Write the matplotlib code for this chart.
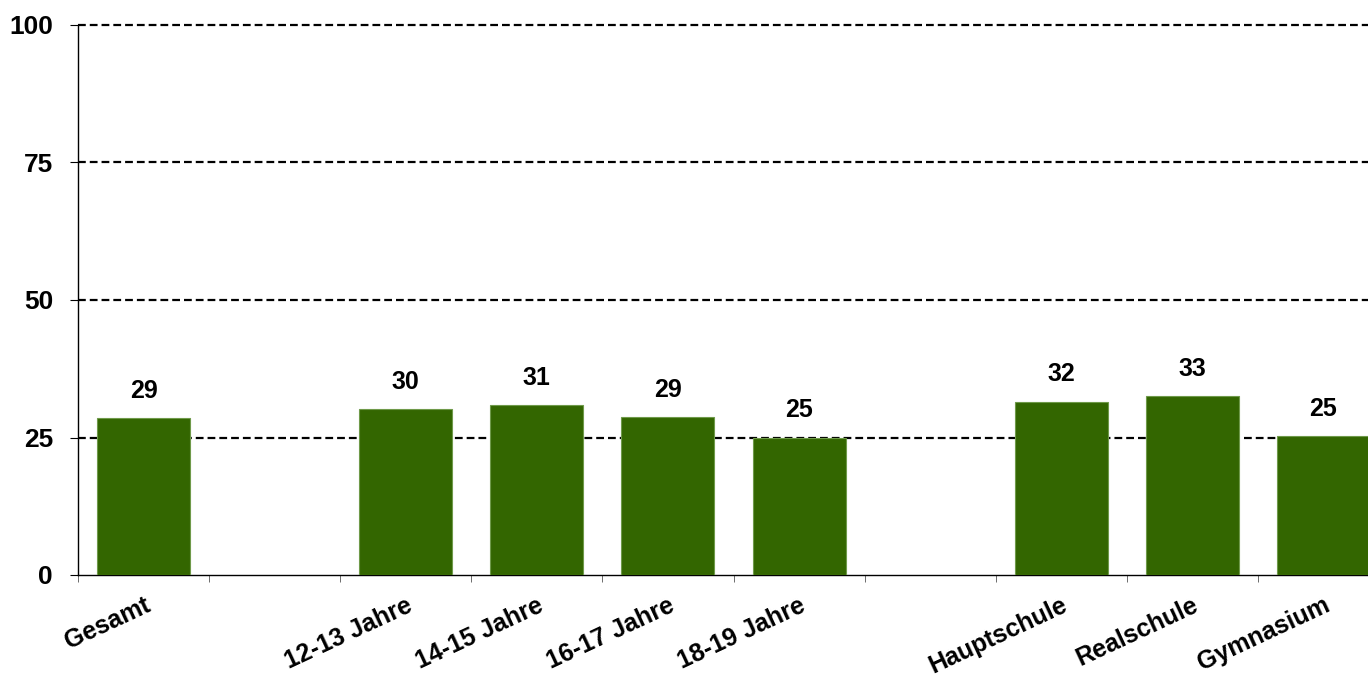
import numpy as np
import matplotlib.pyplot as plt

# categories (empty strings are gaps between groups)
categories = ['Gesamt', '', '12-13 Jahre', '14-15 Jahre', '16-17 Jahre', '18-19 Jahre',
              '', 'Hauptschule', 'Realschule', 'Gymnasium']
values = [28.5, np.nan, 30.2, 30.9, 28.7, 25.0, np.nan, 31.5, 32.5, 25.3]
value_labels = ['29', '', '30', '31', '29', '25', '', '32', '33', '25']
yticks = [0, 25, 50, 75, 100]

plt.rcParams['font.family'] = ['Liberation Sans', 'DejaVu Sans']
plt.rcParams['font.weight'] = 'bold'

fig = plt.figure(figsize=(13.68, 6.76), dpi=100)
# right edge of the plot area runs past the picture, as in the reference
ax = fig.add_axes([78/1368, 1 - 575/676, (1389 - 78)/1368, (575 - 25)/676])

x = np.arange(len(categories))
ax.bar(x, values, width=0.71, color='#336600', edgecolor='#6f9a4a', linewidth=0.8, zorder=3)

for xi, v, lab in zip(x, values, value_labels):
    if lab:
        ax.annotate(lab, (xi, v), xytext=(0, 11), textcoords='offset points',
                    ha='center', va='bottom', fontsize=18, fontweight='bold')

for t in yticks[1:]:
    ax.axhline(t, color='black', linestyle=(0, (3.5, 1.8)), linewidth=1.6,
               zorder=1, clip_on=False)

ax.set_xlim(-0.5, len(categories) - 0.5)
ax.set_ylim(0, 100)
ax.set_yticks(yticks)
ax.set_yticklabels([str(t) for t in yticks], fontsize=19, fontweight='bold')
ax.tick_params(axis='y', length=6, width=0.8, pad=12)

ax.set_xticks(np.arange(len(categories) + 1) - 0.5)
ax.set_xticklabels([])
ax.tick_params(axis='x', which='major', length=5, width=0.6, color='#555555')
ax.set_xticks(x, minor=True)
ax.set_xticklabels(categories, minor=True, rotation=25, ha='right',
                   rotation_mode='anchor', fontsize=18, fontweight='bold')
ax.tick_params(axis='x', which='minor', length=0, pad=13)

ax.spines['top'].set_visible(False)
ax.spines['right'].set_visible(False)
ax.spines['left'].set_linewidth(1.0)
ax.spines['bottom'].set_linewidth(1.0)

fig.savefig('out.png', dpi=100)
